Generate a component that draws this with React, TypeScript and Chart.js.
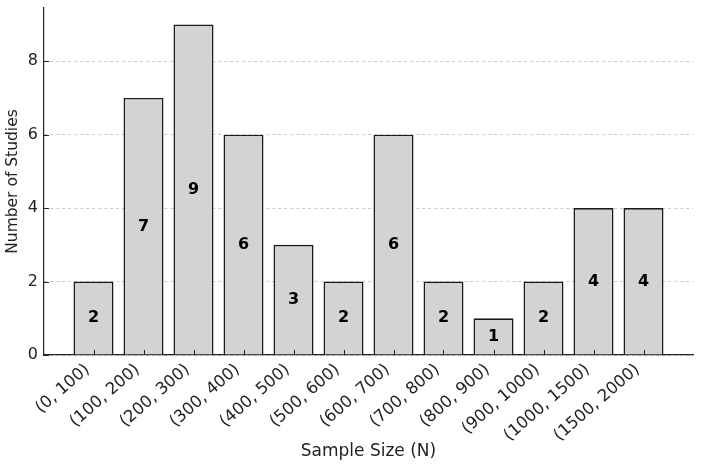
import React, { useEffect, useRef } from "react";
import { Chart, registerables } from "chart.js";

Chart.register(...registerables);

const categories = [
  "(0, 100)", "(100, 200)", "(200, 300)", "(300, 400)", "(400, 500)", "(500, 600)",
  "(600, 700)", "(700, 800)", "(800, 900)", "(900, 1000)", "(1000, 1500)", "(1500, 2000)",
];
const counts = [2, 7, 9, 6, 3, 2, 6, 2, 1, 2, 4, 4];
const yTicks = [0, 2, 4, 6, 8];

const FONT = "'DejaVu Sans', sans-serif";

const innerTicks = {
  id: "innerTicks",
  afterDatasetsDraw(chart: any) {
    const { ctx, chartArea, scales } = chart;
    ctx.save();
    ctx.strokeStyle = "#222";
    ctx.lineWidth = 1;
    ctx.beginPath();
    categories.forEach((_, i) => {
      const x = Math.round(scales.x.getPixelForValue(i)) + 0.5;
      ctx.moveTo(x, chartArea.bottom);
      ctx.lineTo(x, chartArea.bottom - 5);
    });
    yTicks.forEach((v) => {
      const y = Math.round(scales.y.getPixelForValue(v)) + 0.5;
      ctx.moveTo(chartArea.left, y);
      ctx.lineTo(chartArea.left + 5, y);
    });
    ctx.stroke();
    const meta = chart.getDatasetMeta(0);
    ctx.fillStyle = "#000";
    ctx.font = `bold 16px ${FONT}`;
    ctx.textAlign = "center";
    ctx.textBaseline = "middle";
    meta.data.forEach((bar: any, i: number) => {
      const y = scales.y.getPixelForValue(counts[i] / 2);
      ctx.fillText(String(counts[i]), bar.x, y);
    });
    ctx.restore();
  },
};

export default function App() {
  const ref = useRef<HTMLCanvasElement | null>(null);
  useEffect(() => {
    const chart = new Chart(ref.current as HTMLCanvasElement, {
      type: "bar",
      data: {
        datasets: [
          {
            data: counts.map((v, i) => ({ x: i, y: v })),
            backgroundColor: "#d3d3d3",
            borderColor: "#1a1a1a",
            borderWidth: 1.6,
            barPercentage: 0.8,
            categoryPercentage: 1,
          },
        ],
      },
      options: {
        animation: false,
        responsive: false,
        maintainAspectRatio: false,
        layout: { padding: { top: 8, right: 9, left: 0, bottom: 0 } },
        plugins: { legend: { display: false }, tooltip: { enabled: false } },
        scales: {
          x: {
            type: "linear",
            offset: false,
            min: -0.99,
            max: 11.99,
            afterFit: (s: any) => { s.height = 112; s.paddingLeft = 0; s.paddingRight = 0; },
            afterBuildTicks: (s: any) => { s.ticks = categories.map((_, i) => ({ value: i })); },
            ticks: {
              autoSkip: false,
              maxRotation: 41,
              minRotation: 41,
              color: "#222",
              padding: -3,
              labelOffset: -6,
              font: { family: FONT, size: 16.5 },
              callback: (v: any) => categories[v] ?? "",
            },
            grid: { display: false },
            border: { display: true, color: "#222", width: 1.2 },
            title: {
              display: true,
              text: "Sample Size (N)",
              color: "#222",
              font: { family: FONT, size: 17 },
              padding: { top: 0, bottom: 5 },
            },
          },
          y: {
            min: 0,
            max: 9.45,
            afterFit: (s: any) => { s.width = 44; s.paddingTop = 0; s.paddingBottom = 0; },
            afterBuildTicks: (s: any) => { s.ticks = yTicks.map((v) => ({ value: v })); },
            ticks: {
              color: "#222",
              padding: 6,
              font: { family: FONT, size: 16 },
            },
            grid: {
              color: "#bdbdbd",
              lineWidth: 0.8,
              drawTicks: false,
              tickLength: 0,
            },
            border: { display: true, color: "#222", width: 1.2, dash: [3, 3] },
            title: {
              display: true,
              text: "Number of Studies",
              color: "#222",
              font: { family: FONT, size: 15.5 },
              padding: { top: 4, bottom: 0 },
            },
          },
        },
      },
      plugins: [innerTicks],
    });
    return () => chart.destroy();
  }, []);
  return (
    <div style={{ position: "absolute", left: 0, top: 0, width: 702, height: 467, background: "#fff" }}>
      <canvas ref={ref} width={702} height={467} style={{ width: 702, height: 467 }} />
    </div>
  );
}
